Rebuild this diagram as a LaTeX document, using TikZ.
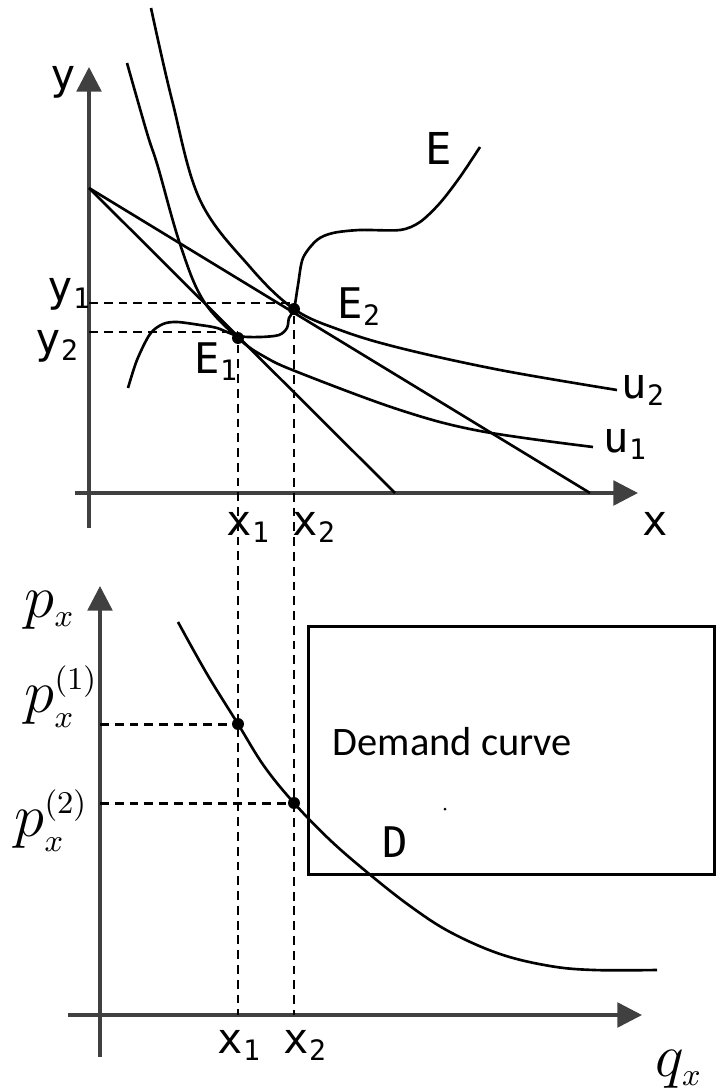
\documentclass[tikz,border=0pt]{standalone}
\usepackage{fontspec}
\usetikzlibrary{arrows.meta}
\newfontfamily\monof{DejaVu Sans Mono}
\newfontfamily\carlf{Carlito}
\newcommand\lsub[1]{\raisebox{-2.2pt}{\fontsize{8}{8}\selectfont #1}}
\begin{document}
\begin{tikzpicture}[x=0.01cm,y=-0.01cm,
  axis/.style={line width=1pt, draw=black!75, -{Triangle[length=7pt,width=7pt]}},
  crv/.style={line width=0.75pt},
  guide/.style={line width=0.85pt, dash pattern=on 2.5pt off 1.7pt},
  lbl/.style={font=\monof\fontsize{12}{12}\selectfont, inner sep=0pt, anchor=base west},
  mlbl/.style={font=\fontsize{19}{19}\selectfont, inner sep=0pt, anchor=base west},
  dot/.style={circle, fill, inner sep=0pt, minimum size=3.4pt}]
\useasboundingbox (0,0) rectangle (715,1088);
% ---------- top chart ----------
\coordinate (yaxB) at (89,528);
\coordinate (yaxT) at (89,67);
\coordinate (xaxL) at (75,493);
\coordinate (xaxR) at (638,493);
\draw[axis] (yaxB) -- (yaxT);
\draw[axis] (xaxL) -- (xaxR);
\coordinate (A) at (89,188);
\coordinate (B1) at (395,493);
\coordinate (B2) at (590,493);
\draw[crv] (A) -- (B1);
\draw[crv] (A) -- (B2);
\node[dot] (E1) at (238,338) {};
\node[dot] (E2) at (294,309) {};
% indifference curves
\draw[crv] plot[smooth, tension=0.6] coordinates {(127,63) (147,133) (158,167) (180,244) (203,300) (238,338) (265,357) (300,373) (400,410) (480,431) (593,447)};
\draw[crv] plot[smooth, tension=0.6] coordinates {(151,8) (172,100) (200,200) (250,267) (294,309) (340,330) (400,348) (500,370) (617,390)};
% E curve
\draw[crv] plot[smooth, tension=0.5] coordinates {(128,388) (137,360) (150,334) (163,324) (177,322) (200,325) (217,328) (238,336) (260,337) (279,335) (287,328) (289,318) (294,309) (298,285) (303,258) (317,240) (333,233) (360,230) (400,230) (420,222) (440,203) (460,177) (480,147)};
% guides
\coordinate (y1) at (89,303);
\coordinate (y2) at (89,332);
\draw[guide] (y1) -- (y1 -| E2);
\draw[guide] (y2) -- (y2 -| E1);
% labels
\node[lbl] (ylab) at (50,90) {y};
\node[lbl] (y1lab) at (47,301) {y\lsub{1}};
\node[lbl] (y2lab) at (35,353) {y\lsub{2}};
\node[lbl] (E2lab) at (337,318) {E\lsub{2}};
\node[lbl] (E1lab) at (194,373) {E\lsub{1}};
\node[lbl, font=\monof\fontsize{12.5}{12.5}\selectfont] (Elab) at (425,165) {E};
\node[lbl] (u2lab) at (621,398) {u\lsub{2}};
\node[lbl] (u1lab) at (603,452) {u\lsub{1}};
\node[lbl] (xlab) at (642,535) {x};
\node[lbl] (x1lab) at (226,535) {x\lsub{1}};
\node[lbl] (x2lab) at (292,535) {x\lsub{2}};
% ---------- bottom chart ----------
\coordinate (pB) at (100,1057);
\coordinate (pT) at (100,586);
\coordinate (qL) at (68,1015);
\coordinate (qR) at (642,1015);
\draw[axis] (pB) -- (pT);
\draw[axis] (qL) -- (qR);
\node[dot] (P1) at (238,724) {};
\node[dot] (P2) at (294,803) {};
\draw[guide] (E1) -- (E1 |- qL);
\draw[guide] (E2) -- (E2 |- qL);
\coordinate (p1) at (100,724);
\coordinate (p2) at (100,803);
\draw[guide] (p1) -- (P1);
\draw[guide] (p2) -- (P2);
\draw[crv] plot[smooth, tension=0.6] coordinates {(178,622) (207,674) (238,724) (264,766) (294,803) (330,840) (368,873) (410,906) (450,932) (500,954) (550,966) (594,970) (657,970)};
\node[draw, line width=0.8pt, inner sep=0pt, minimum width=406*0.01cm, minimum height=248*0.01cm, anchor=north west] (box) at (307,625) {};
\node[inner sep=0pt, anchor=base west, font=\carlf\fontsize{11.5}{11.5}\selectfont] (dc) at (332,755) {Demand curve};
\fill (445,809) circle (1.5);
\node[lbl] (Dlab) at (382,857) {D};
\node[mlbl] (pxlab) at (24,617) {$p_{\scriptscriptstyle x}$};
\node[mlbl] (px1lab) at (24,712) {$p_{\scriptscriptstyle x}^{\scriptscriptstyle (1)}$};
\node[mlbl] (px2lab) at (14,836) {$p_{\scriptscriptstyle x}^{\scriptscriptstyle (2)}$};
\node[mlbl] (qxlab) at (655,1076) {$q_{\scriptscriptstyle x}$};
\node[lbl] (bx1lab) at (217,1053) {x\lsub{1}};
\node[lbl] (bx2lab) at (283,1053) {x\lsub{2}};
\end{tikzpicture}
\end{document}
